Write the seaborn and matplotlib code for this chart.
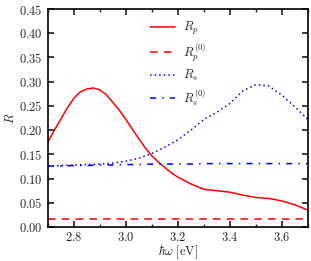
import numpy as np
import pandas as pd
import matplotlib
matplotlib.use("Agg")
import matplotlib.pyplot as plt
from matplotlib.ticker import MultipleLocator
import seaborn as sns

# ── data ────────────────────────────────────────────────────
e_p = [2.700, 2.725, 2.750, 2.775, 2.800, 2.825, 2.850, 2.875, 2.900, 2.925,
       2.950, 2.975, 3.000, 3.025, 3.050, 3.075, 3.100, 3.125, 3.150, 3.175,
       3.20, 3.25, 3.30, 3.35, 3.40, 3.45, 3.50, 3.55, 3.60, 3.65, 3.70]
r_p = [0.175, 0.200, 0.223, 0.246, 0.266, 0.279, 0.285, 0.287, 0.283, 0.273,
       0.257, 0.241, 0.222, 0.202, 0.182, 0.163, 0.147, 0.134, 0.123, 0.112,
       0.103, 0.089, 0.078, 0.075, 0.072, 0.066, 0.061, 0.059, 0.054, 0.046, 0.035]

energy = [2.70, 2.75, 2.80, 2.85, 2.90, 2.95, 3.00, 3.05, 3.10, 3.15, 3.20,
          3.25, 3.30, 3.35, 3.40, 3.45, 3.50, 3.55, 3.60, 3.65, 3.70]
r_p0 = [0.017] * len(energy)
r_s = [0.126, 0.127, 0.128, 0.129, 0.130, 0.132, 0.136, 0.142, 0.152, 0.165, 0.180,
       0.200, 0.222, 0.237, 0.255, 0.281, 0.294, 0.291, 0.272, 0.248, 0.222]
r_s0 = [0.126, 0.126, 0.127, 0.127, 0.128, 0.128, 0.129, 0.129, 0.130, 0.130, 0.130,
        0.130, 0.131, 0.131, 0.131, 0.131, 0.131, 0.131, 0.131, 0.131, 0.131]

x_ticks = [2.8, 3.0, 3.2, 3.4, 3.6]
y_ticks = [0.00, 0.05, 0.10, 0.15, 0.20, 0.25, 0.30, 0.35, 0.40, 0.45]

df_p = pd.DataFrame({"E": e_p, "R": r_p})
df = pd.DataFrame({"E": energy, "Rp0": r_p0, "Rs": r_s, "Rs0": r_s0})

# ── style ───────────────────────────────────────────────────
sns.set_theme(style="ticks")
plt.rcParams.update({
    "font.family": "serif",
    "font.serif": ["cmr10", "DejaVu Serif"],
    "mathtext.fontset": "cm",
    "axes.formatter.use_mathtext": True,
    "font.size": 9,
    "axes.edgecolor": "black",
    "axes.linewidth": 1.2,
    "xtick.direction": "in",
    "ytick.direction": "in",
    "xtick.top": True,
    "ytick.right": True,
    "xtick.major.size": 4,
    "ytick.major.size": 4,
    "xtick.minor.size": 2,
    "xtick.labelsize": 9,
    "ytick.labelsize": 9,
})

fig, ax = plt.subplots(figsize=(3.11, 2.61), dpi=100)
fig.subplots_adjust(left=0.154, right=0.990, bottom=0.130, top=0.9655)

sns.lineplot(data=df_p, x="E", y="R", ax=ax, color="red", lw=1.1,
             label=r"$R_p$")
sns.lineplot(data=df, x="E", y="Rp0", ax=ax, color="red", lw=1.1,
             label=r"$R_p^{(0)}$").lines[-1].set_dashes([5, 4])
sns.lineplot(data=df, x="E", y="Rs", ax=ax, color="blue", lw=1.1,
             label=r"$R_s$").lines[-1].set_dashes([1, 2])
sns.lineplot(data=df, x="E", y="Rs0", ax=ax, color="blue", lw=1.1,
             label=r"$R_s^{(0)}$").lines[-1].set_dashes([4, 4, 1, 4])

ax.set_xlim(2.7, 3.7)
ax.set_ylim(0, 0.45)
ax.set_xticks(x_ticks)
ax.set_yticks(y_ticks)
ax.xaxis.set_minor_locator(MultipleLocator(0.1))
ax.tick_params(which="both", top=True, right=True, direction="in")
ax.tick_params(axis="x", pad=2.5)
ax.set_xlabel(r"$\hbar\omega\ [\mathrm{eV}]$", fontsize=9, labelpad=0)
ax.set_ylabel(r"$R$", fontsize=9, labelpad=2)

ax.legend(loc="upper center", frameon=False, fontsize=9,
          handlelength=2.0, handletextpad=0.6, labelspacing=0.35)

fig.savefig("out.png", dpi=100)
